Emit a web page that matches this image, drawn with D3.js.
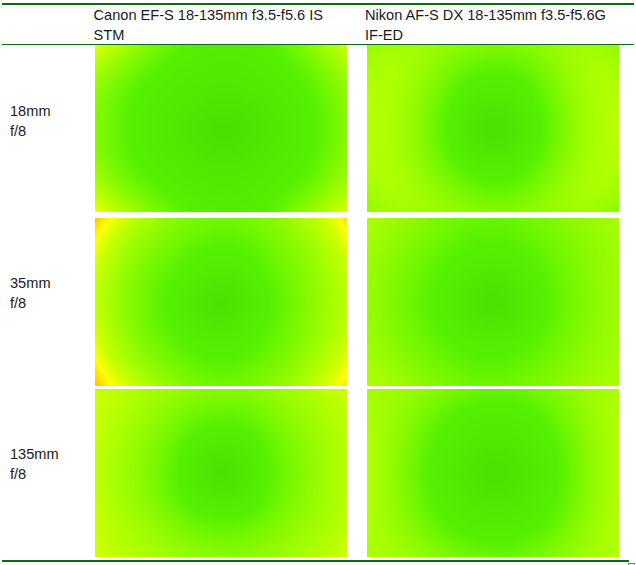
<!DOCTYPE html>
<html><head><meta charset="utf-8">
<script src="https://cdnjs.cloudflare.com/ajax/libs/d3/7.8.5/d3.min.js"></script>
<style>html,body{margin:0;padding:0;background:#fff;overflow:hidden}svg{display:block}
text{font-family:"Liberation Sans",Arial,sans-serif;font-size:14.6px;fill:#1a1a1a}</style>
</head><body><svg id="c" width="636" height="565"></svg>
<script>
const lenses = ["Canon EF-S 18-135mm f3.5-f5.6 IS|STM", "Nikon AF-S DX 18-135mm f3.5-f5.6G|IF-ED"];
const focalLengths = ["18mm", "35mm", "135mm"];
const aperture = "f/8";
const colorStops = [0,0.35,0.8,1.4,2,3,4,5,6,7];
const colorValues = ["#40d400","#4ae000","#50ea00","#55f000","#6ef600","#90fa00","#acff00","#ccff00","#ffff00","#ffc000"];
const canon18 = [[5.6,3.6,2.0,1.3,1.0,1.1,1.6,3.0,5.0],[3.6,2.0,1.2,0.9,0.8,0.9,1.1,1.8,3.4],[2.8,1.4,0.9,0.8,0.6,0.7,0.9,1.3,2.8],[2.6,1.3,0.9,0.5,0,0.4,0.8,1.2,2.6],[2.8,1.4,0.9,0.8,0.5,0.7,0.9,1.3,2.8],[3.8,2.0,1.2,0.9,0.8,0.9,1.1,1.8,3.5],[5.8,3.8,2.2,1.3,1.0,1.1,1.8,3.4,5.4]];
const nikon18 = [[3.2,3.8,3.5,2.8,2.4,2.6,3.3,3.8,3.0],[4.0,4.2,3.0,1.6,1.2,1.4,2.8,4.0,4.0],[4.3,4.0,2.3,0.9,0.7,0.9,2.1,3.9,4.4],[4.4,3.9,2.0,0.7,0,0.6,1.8,3.8,4.5],[4.3,4.0,2.3,0.9,0.7,0.9,2.1,3.9,4.4],[4.0,4.2,3.2,1.8,1.3,1.6,3.0,4.1,4.0],[3.0,3.8,3.7,3.0,2.6,2.8,3.5,3.8,2.8]];
const canon35 = [[6.9,5,3.2,2.4,2.0,2.3,3.0,4.4,6.6],[5.8,3.4,2.4,1.6,1.3,1.5,2.4,3.4,5.4],[5,2.8,1.8,1.1,0.8,1.1,2.0,3.0,4.6],[4.6,2.6,1.5,0.7,0,0.7,1.7,2.9,4.4],[5,2.8,1.7,1.0,0.7,1.1,1.9,3.0,4.6],[6,3.5,2.3,1.5,1.2,1.5,2.3,3.4,5.4],[7,5.2,3.4,2.4,2.0,2.3,3.0,4.6,6.5]];
const nikon35 = [[4,3.3,2.6,2.0,1.8,2.0,2.6,3.2,3.8],[3.6,2.8,2.0,1.4,1.2,1.5,2.1,2.9,3.6],[3.4,2.4,1.6,1.0,0.7,1,1.8,2.7,3.5],[3.3,2.2,1.4,0.6,0,0.6,1.6,2.6,3.5],[3.4,2.4,1.6,1.0,0.7,1,1.8,2.7,3.5],[3.7,2.9,2.0,1.5,1.3,1.6,2.2,3.0,3.7],[4.1,3.5,2.7,2.1,1.9,2.2,2.8,3.4,4.0]];
const canon135 = [[5,4.4,3.6,3.0,2.6,2.8,3.4,4.2,5],[4.9,3.9,3.0,1.9,1.5,1.7,2.8,3.5,4.6],[4.7,3.5,2.4,1.0,0.8,0.9,2.2,3.2,4.4],[4.6,3.3,2.1,0.8,0,0.7,2.0,3.0,4.4],[4.7,3.5,2.4,1.0,0.8,0.9,2.2,3.2,4.4],[4.9,3.9,3.1,2.1,1.7,1.9,2.8,3.5,4.6],[5.1,4.4,3.8,3.2,2.8,3.0,3.4,4.2,5.0]];
const nikon135 = [[3.6,3.6,2.8,2.0,1.7,1.8,2.6,3.4,4],[4,3.2,1.9,1.0,0.9,1.0,1.7,3.2,4.2],[4.2,2.9,1.3,0.9,0.7,0.8,1.2,2.8,4.2],[4.3,2.7,1.1,0.7,0,0.6,1.0,2.7,4.2],[4.2,2.9,1.3,.9,.7,.8,1.2,2.8,4.2],[4.1,3.2,1.9,1.0,.9,1.0,1.7,3.2,4.3],[4.0,3.8,3.0,2.2,1.8,2.0,2.8,3.6,4.2]];
const panels = [[canon18,nikon18],[canon35,nikon35],[canon135,nikon135]];

const svg = d3.select("#c");
const green = "#0b6b14";
const color = d3.scaleLinear().domain(colorStops).range(colorValues).interpolate(d3.interpolateRgb).clamp(true);
const colX = d3.scaleOrdinal().domain([0,1]).range([95,367]);
const rowY = d3.scaleOrdinal().domain([0,1,2]).range([45,218,389]);
const rowH = d3.scaleOrdinal().domain([0,1,2]).range([167,168,168]);
const panelW = 252;

function render(grid, w, h){
  const cv = document.createElement("canvas"); cv.width = w; cv.height = h;
  const ctx = cv.getContext("2d"), img = ctx.createImageData(w,h);
  const rows = grid.map(r => d3.interpolateBasis(r));
  for (let x=0;x<w;x++){
    const t = (x+.5)/w;
    const col = d3.interpolateBasis(rows.map(f=>f(t)));
    for (let y=0;y<h;y++){
      const c = d3.rgb(color(col((y+.5)/h))), i = 4*(y*w+x);
      img.data[i]=c.r; img.data[i+1]=c.g; img.data[i+2]=c.b; img.data[i+3]=255;
    }
  }
  ctx.putImageData(img,0,0);
  return cv.toDataURL();
}
panels.forEach((row,r)=>row.forEach((grid,c)=>{
  svg.append("image").attr("x",colX(c)).attr("y",rowY(r)).attr("width",panelW).attr("height",rowH(r))
    .attr("href",render(grid,panelW,rowH(r)));
}));
const headX = d3.scaleOrdinal().domain([0,1]).range([93.5,365]);
lenses.forEach((l,i)=>l.split("|").forEach((t,j)=>{
  svg.append("text").attr("x",headX(i)).attr("y",20+j*20).text(t);
}));
const labY = d3.scaleOrdinal().domain([0,1,2]).range([116,288,459]);
focalLengths.forEach((f,i)=>{
  svg.append("text").attr("x",10).attr("y",labY(i)).text(f);
  svg.append("text").attr("x",10).attr("y",labY(i)+20).text(aperture);
});
svg.append("line").attr("x1",2).attr("x2",634).attr("y1",4).attr("y2",4).attr("stroke",green).attr("stroke-width",2);
svg.append("line").attr("x1",2).attr("x2",634).attr("y1",44.5).attr("y2",44.5).attr("stroke",green).attr("stroke-width",1);
svg.append("line").attr("x1",2).attr("x2",629).attr("y1",561).attr("y2",561).attr("stroke",green).attr("stroke-width",2);
svg.append("rect").attr("x",628.5).attr("y",563.5).attr("width",6).attr("height",6).attr("fill","#fff").attr("stroke","#777");
</script></body></html>
